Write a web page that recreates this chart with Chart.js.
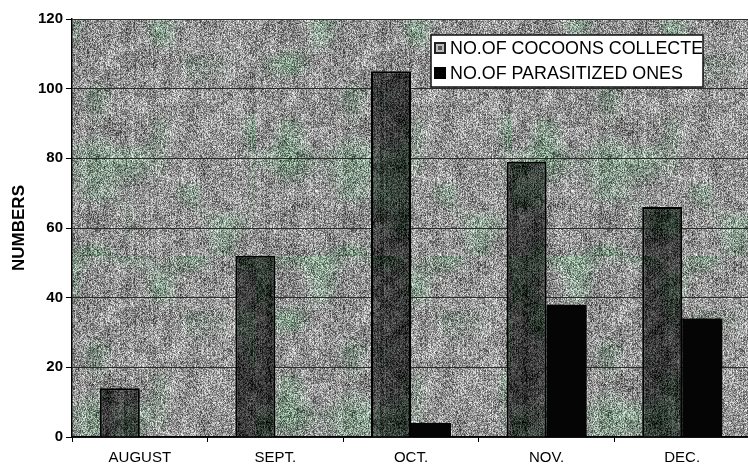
<!DOCTYPE html>
<html>
<head>
<meta charset="utf-8">
<script src="https://cdn.jsdelivr.net/npm/chart.js@4.4.0/dist/chart.umd.min.js"></script>
<style>
  html, body { margin: 0; padding: 0; background: #fff; overflow: hidden; }
  #wrap { position: relative; width: 750px; height: 470px; }
</style>
</head>
<body>
<div id="wrap"><canvas id="c" width="750" height="470"></canvas></div>
<script>
// ---- data ----
const categories = ['AUGUST', 'SEPT.', 'OCT.', 'NOV.', 'DEC.'];
const cocoonsCollected = [14, 52, 105, 79, 66];
const parasitizedOnes = [0, 0, 4, 38, 34];
const seriesLabels = ['NO.OF COCOONS COLLECTE', 'NO.OF PARASITIZED ONES'];
const yAxisTitle = 'NUMBERS';
const yMin = 0, yMax = 120, yStep = 20;

// ---- texture (styling only, deterministic hash noise) ----
function hash(x, y, s) {
  let h = (Math.imul(x, 374761393) + Math.imul(y, 668265263) + Math.imul(s, 1442695041)) | 0;
  h = Math.imul(h ^ (h >>> 13), 1274126177);
  h = h ^ (h >>> 16);
  return (h >>> 0) / 4294967295;
}
function smooth(t) { return t * t * (3 - 2 * t); }
function vnoise(x, y, s) {
  const xi = Math.floor(x), yi = Math.floor(y);
  const xf = smooth(x - xi), yf = smooth(y - yi);
  const a = hash(xi, yi, s), b = hash(xi + 1, yi, s), c = hash(xi, yi + 1, s), d = hash(xi + 1, yi + 1, s);
  return a + (b - a) * xf + (c - a) * yf + (a - b - c + d) * xf * yf;
}
function makeTexture(base, amp, greenAmt, seed) {
  const W = 256, H = 256;
  const cv = document.createElement('canvas');
  cv.width = W; cv.height = H;
  const ctx = cv.getContext('2d');
  const img = ctx.createImageData(W, H);
  for (let y = 0; y < H; y++) {
    for (let x = 0; x < W; x++) {
      const n = hash(x, y, seed);
      const n2 = hash(x, y >> 1, seed + 7);
      const col = hash(x, 0, seed + 3);
      const blob = vnoise(x / 32, y / 32, seed + 11);
      const blob2 = vnoise(x / 12, y / 12, seed + 19);
      let v = base + (n - 0.5) * amp + (n2 - 0.5) * amp * 0.45 + (col - 0.5) * 26 + (blob2 - 0.5) * 40;
      const g = Math.max(0, blob - 0.5) * greenAmt;
      let r = v - g, gg = v + g * 0.15, b = v - g * 0.7;
      const i = (y * W + x) * 4;
      img.data[i] = Math.max(0, Math.min(255, r));
      img.data[i + 1] = Math.max(0, Math.min(255, gg));
      img.data[i + 2] = Math.max(0, Math.min(255, b));
      img.data[i + 3] = 255;
    }
  }
  ctx.putImageData(img, 0, 0);
  return cv;
}
const canvas = document.getElementById('c');
const mainCtx = canvas.getContext('2d');
const bgTex = mainCtx.createPattern(makeTexture(148, 125, 50, 1), 'repeat');
const barTex = mainCtx.createPattern(makeTexture(62, 75, 25, 5), 'repeat');

const FONT = "'Liberation Sans', Arial, sans-serif";

const plotBg = {
  id: 'plotBg',
  beforeDraw(chart) {
    const { ctx, chartArea: a } = chart;
    ctx.save();
    ctx.fillStyle = bgTex;
    ctx.fillRect(a.left, a.top, a.right - a.left, a.bottom - a.top);
    ctx.restore();
  }
};

const boxLegend = {
  id: 'boxLegend',
  afterDraw(chart) {
    const ctx = chart.ctx;
    const x0 = 431, y0 = 35, x1 = 703, y1 = 87;
    ctx.save();
    ctx.fillStyle = '#fff';
    ctx.fillRect(x0, y0, x1 - x0, y1 - y0);
    ctx.lineWidth = 1.5;
    ctx.strokeStyle = '#111';
    ctx.strokeRect(x0, y0, x1 - x0, y1 - y0);
    ctx.beginPath();
    ctx.rect(x0, y0, x1 - x0 - 1, y1 - y0);
    ctx.clip();
    let fs = 17;
    ctx.font = fs + 'px ' + FONT;
    const w = ctx.measureText(chart.data.datasets[1].label).width;
    fs = fs * 233 / w;
    ctx.font = fs + 'px ' + FONT;
    ctx.textBaseline = 'middle';
    const rows = [48, 73];
    chart.data.datasets.forEach((ds, i) => {
      const my = rows[i];
      if (i === 0) {
        ctx.fillStyle = '#222';
        ctx.fillRect(434, my - 6, 12, 12);
        ctx.fillStyle = '#bbb';
        ctx.fillRect(436, my - 4, 8, 8);
        ctx.fillStyle = '#555';
        ctx.fillRect(438, my - 2, 4, 4);
      } else {
        ctx.fillStyle = '#000';
        ctx.fillRect(434, my - 6, 12, 12);
      }
      ctx.fillStyle = '#000';
      ctx.fillText(ds.label, 450, my + 1);
    });
    ctx.restore();
  }
};

new Chart(canvas, {
  type: 'bar',
  data: {
    labels: categories,
    datasets: [
      {
        label: seriesLabels[0],
        data: cocoonsCollected,
        backgroundColor: barTex,
        borderColor: '#000',
        borderWidth: 2,
        borderSkipped: 'bottom'
      },
      {
        label: seriesLabels[1],
        data: parasitizedOnes,
        backgroundColor: '#050505',
        borderColor: '#000',
        borderWidth: 0
      }
    ]
  },
  options: {
    responsive: false,
    animation: false,
    devicePixelRatio: 1,
    layout: { padding: { top: 19, right: 0, bottom: 0, left: 0 } },
    datasets: { bar: { categoryPercentage: 0.59, barPercentage: 1.0 } },
    plugins: {
      legend: { display: false },
      tooltip: { enabled: false },
      title: { display: false }
    },
    scales: {
      x: {
        offset: true,
        grid: { display: true, drawOnChartArea: false, drawTicks: true, tickLength: 5, color: '#000', lineWidth: 1 },
        border: { display: true, color: '#000', width: 1.5 },
        ticks: { color: '#000', font: { family: FONT, size: 15 }, padding: 7, maxRotation: 0 },
        afterFit(s) { s.height = 33; }
      },
      y: {
        min: yMin, max: yMax,
        grid: { color: '#2a2a2a', lineWidth: 1, drawTicks: true, tickLength: 6, tickColor: '#000' },
        border: { display: true, color: '#000', width: 1.5 },
        ticks: { stepSize: yStep, color: '#000', font: { family: FONT, size: 15, weight: 'bold' }, padding: 3 },
        title: { display: true, text: yAxisTitle, color: '#000', font: { family: FONT, size: 17, weight: 'bold' }, padding: { top: 9, bottom: 0 } },
        afterFit(s) { s.width = 72; }
      }
    }
  },
  plugins: [plotBg, boxLegend]
});
</script>
</body>
</html>
